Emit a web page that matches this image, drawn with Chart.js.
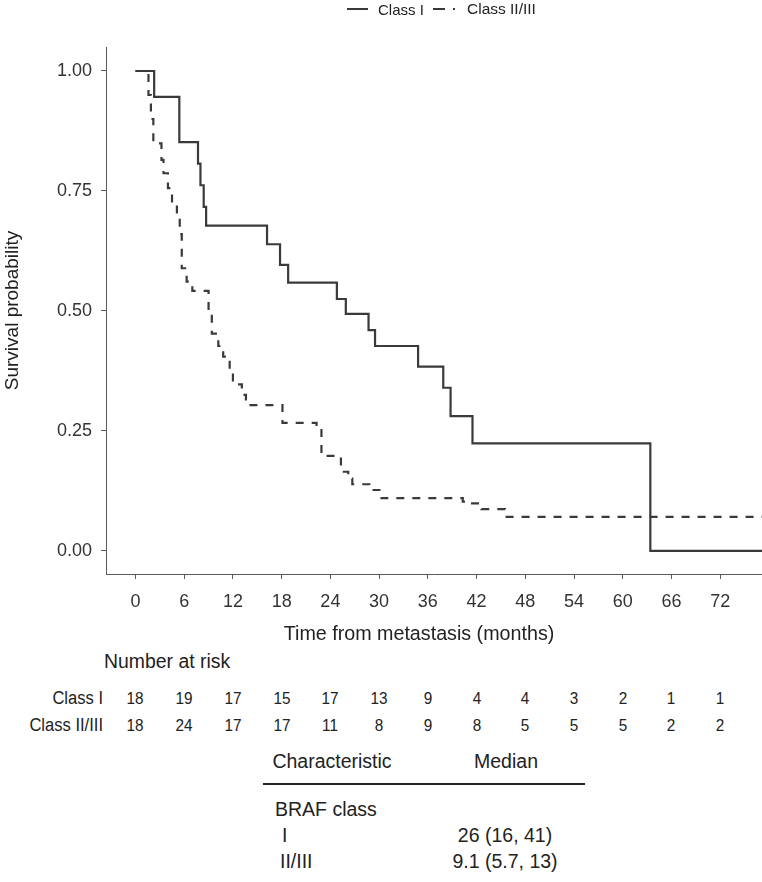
<!DOCTYPE html>
<html>
<head>
<meta charset="utf-8">
<script src="https://cdn.jsdelivr.net/npm/chart.js@4/dist/chart.umd.min.js"></script>
<style>
html,body{margin:0;padding:0;background:#fff;}
#wrap{position:relative;width:762px;height:882px;overflow:hidden;font-family:"Liberation Sans",Arial,Helvetica,sans-serif;color:#222;}
#chartBox{position:absolute;left:0;top:0;width:762px;height:650px;}
.t{position:absolute;white-space:nowrap;line-height:1;}
</style>
</head>
<body>
<div id="wrap">
  <div id="chartBox"><canvas id="cv" width="762" height="650"></canvas></div>
</div>
<script>
// ---------- data ----------
const seriesNames = ["Class I", "Class II/III"];
// Kaplan-Meier steps: time (months) and survival probability after the step
const classITime = [0, 2.3, 5.4, 7.7, 8.0, 8.4, 8.7, 16.2, 17.8, 18.8, 24.8, 25.9, 28.7, 29.5, 34.8, 37.9, 38.8, 41.5, 63.4, 77.2];
const classISurv = [1.0, 0.946, 0.852, 0.807, 0.762, 0.717, 0.678, 0.639, 0.596, 0.559, 0.525, 0.494, 0.46, 0.427, 0.384, 0.34, 0.281, 0.224, 0.0, 0.0];
const classIITime = [0, 1.6, 1.9, 2.2, 3.2, 3.45, 4.0, 4.5, 5.1, 5.45, 5.7, 6.3, 7.0, 9.0, 9.4, 10.2, 10.8, 11.6, 12.0, 13.1, 13.6, 18.1, 22.3, 22.9, 25.3, 26.2, 26.7, 28.8, 30.3, 40.3, 41.2, 42.6, 45.5, 77.2];
const classIISurv = [1.0, 0.95, 0.90, 0.849, 0.815, 0.787, 0.756, 0.724, 0.697, 0.66, 0.589, 0.561, 0.542, 0.49, 0.453, 0.427, 0.405, 0.37, 0.347, 0.325, 0.304, 0.267, 0.252, 0.198, 0.165, 0.151, 0.139, 0.127, 0.11, 0.103, 0.099, 0.087, 0.071, 0.071];
const xTicks = [0, 6, 12, 18, 24, 30, 36, 42, 48, 54, 60, 66, 72];
const yTicks = [0, 0.25, 0.5, 0.75, 1.0];
const riskTimes = [0, 6, 12, 18, 24, 30, 36, 42, 48, 54, 60, 66, 72];
const riskClassI = [18, 19, 17, 15, 17, 13, 9, 4, 4, 3, 2, 1, 1];
const riskClassII = [18, 24, 17, 17, 11, 8, 9, 8, 5, 5, 5, 2, 2];
const tableCharacteristic = ["I", "II/III"];
const tableMedian = ["26 (16, 41)", "9.1 (5.7, 13)"];

// ---------- chart ----------
const FONT = '"Liberation Sans", Arial, Helvetica, sans-serif';
Chart.defaults.font.family = FONT;
const LINE = '#3a3a3a';
const AXIS = '#5a5a5a';

function pts(ts, vs){ return ts.map((t,i)=>({x:t, y:vs[i]})); }

const chart = new Chart(document.getElementById('cv'), {
  type: 'line',
  data: {
    datasets: [
      {label: seriesNames[0], data: pts(classITime, classISurv), stepped: 'before',
       borderColor: LINE, borderWidth: 2.2, pointRadius: 0, fill: false},
      {label: seriesNames[1], data: pts(classIITime, classIISurv), stepped: 'before',
       borderColor: LINE, borderWidth: 2.2, borderDash: [8, 8], pointRadius: 0, fill: false}
    ]
  },
  options: {
    responsive: false,
    animation: false,
    devicePixelRatio: 1,
    layout: {padding: {top: 47, left: 0, right: 0, bottom: 0}},
    plugins: {legend: {display: false}, tooltip: {enabled: false}},
    scales: {
      x: {
        type: 'linear', min: -3.63, max: 77.15,
        afterBuildTicks: s => { s.ticks = xTicks.map(v => ({value: v})); },
        afterFit: s => { s.height = 76; },
        grid: {drawOnChartArea: false, drawTicks: true, tickLength: 5, tickColor: AXIS, tickWidth: 1},
        border: {display: true, color: AXIS, width: 1},
        ticks: {padding: 12, color: '#333', font: {size: 18}, maxRotation: 0, autoSkip: false, callback: v => String(v)},
        title: {display: false}
      },
      y: {
        type: 'linear', min: -0.048, max: 1.05,
        afterBuildTicks: s => { s.ticks = yTicks.map(v => ({value: v})); },
        afterFit: s => { s.width = 106; },
        grid: {drawOnChartArea: false, drawTicks: true, tickLength: 5, tickColor: AXIS, tickWidth: 1},
        border: {display: true, color: AXIS, width: 1},
        ticks: {padding: 9, color: '#333', font: {size: 18}, callback: v => Number(v).toFixed(2)},
        title: {display: true, text: 'Survival probability', color: '#222', font: {size: 19}, padding: {top: 1, bottom: 0}}
      }
    }
  }
});

// ---------- text overlays ----------
const wrap = document.getElementById('wrap');
function txt(s, x, y, opts){
  opts = opts || {};
  const d = document.createElement('div');
  d.className = 't';
  d.textContent = s;
  d.style.left = x + 'px';
  d.style.top = y + 'px';
  d.style.fontSize = (opts.size || 15) + 'px';
  d.style.color = opts.color || '#222';
  const ax = opts.align === 'center' ? '-50%' : (opts.align === 'right' ? '-100%' : '0');
  const sx = opts.sx || 1;
  const origin = opts.align === 'center' ? 'center' : (opts.align === 'right' ? 'right' : 'left');
  d.style.transformOrigin = origin + ' center';
  d.style.transform = 'translate(' + ax + ',-50%) scaleX(' + sx + ')';
  wrap.appendChild(d);
  return d;
}
function rule(x, y, w, h, color){
  const d = document.createElement('div');
  d.style.position = 'absolute';
  d.style.left = x + 'px'; d.style.top = y + 'px';
  d.style.width = w + 'px'; d.style.height = h + 'px';
  d.style.background = color;
  wrap.appendChild(d);
}

// legend
rule(347, 8, 21, 2, LINE);
txt(seriesNames[0], 378, 9, {size: 15});
rule(433, 8, 12, 2, LINE);
rule(453, 8, 2, 2, LINE);
txt(seriesNames[1], 467, 9, {size: 15.5});

// x-axis title
txt('Time from metastasis (months)', 419, 634, {size: 19.7, align: 'center'});

// number at risk
const xs = chart.scales.x;
txt('Number at risk', 104, 661, {size: 20, sx: 0.97});
txt(seriesNames[0], 103, 698, {size: 18, align: 'right', sx: 0.92});
txt(seriesNames[1], 103, 725, {size: 18, align: 'right', sx: 0.92});
riskTimes.forEach((t, i) => {
  const px = xs.getPixelForValue(t);
  txt(String(riskClassI[i]), px, 698, {size: 17, align: 'center', sx: 0.9});
  txt(String(riskClassII[i]), px, 725, {size: 17, align: 'center', sx: 0.9});
});

// median table
txt('Characteristic', 332, 762, {size: 19.5, align: 'center'});
txt('Median', 506, 762, {size: 19.5, align: 'center'});
rule(263, 783, 322, 1.5, '#222');
txt('BRAF class', 275, 810, {size: 19.5});
txt(tableCharacteristic[0], 282, 836, {size: 19.5});
txt(tableMedian[0], 505, 836, {size: 19.5, align: 'center'});
txt(tableCharacteristic[1], 280, 862, {size: 19.5});
txt(tableMedian[1], 505, 862, {size: 19.5, align: 'center'});
</script>
</body>
</html>
